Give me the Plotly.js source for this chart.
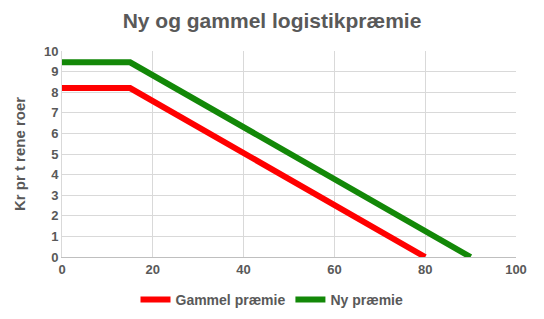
<!DOCTYPE html>
<html><head><meta charset="utf-8">
<script src="https://cdn.plot.ly/plotly-3.0.1.min.js"></script>
<style>body{margin:0}#c{width:544px;height:319px}</style>
</head><body><div id="c"></div>
<script>
const oldX = [0, 15, 80];
const oldY = [8.2, 8.2, 0];
const newX = [0, 15, 90];
const newY = [9.45, 9.45, 0];
const font = {family: 'Liberation Sans, Arial, sans-serif', color: '#595959'};
const data = [
  {x: oldX, y: oldY, mode: 'lines', name: 'Gammel præmie', line: {color: '#ff0000', width: 6}},
  {x: newX, y: newY, mode: 'lines', name: 'Ny præmie', line: {color: '#138808', width: 6}}
];
const layout = {
  width: 544, height: 319,
  margin: {l: 62, r: 28, t: 51, b: 62},
  paper_bgcolor: '#fff', plot_bgcolor: '#fff',
  font: font,
  title: {text: '<b>Ny og gammel logistikpræmie</b>', x: 0.5, xanchor: 'center', y: 0.935, yanchor: 'middle', font: {size: 21, family: font.family, color: '#595959'}},
  xaxis: {range: [0, 100], dtick: 20, automargin: false, showgrid: true, gridcolor: '#d9d9d9', showline: true, linecolor: '#bfbfbf', zeroline: false, ticks: '', tickfont: {size: 13, family: 'Liberation Sans, Arial', color: '#595959', weight: 'bold'}, fixedrange: true},
  yaxis: {range: [0, 10], dtick: 1, automargin: false, showgrid: true, gridcolor: '#d9d9d9', showline: true, linecolor: '#d9d9d9', zeroline: false, ticks: '', tickfont: {size: 13, family: 'Liberation Sans, Arial', color: '#595959', weight: 'bold'},
    title: {text: '<b>Kr pr t rene roer</b>', font: {size: 15, family: font.family, color: '#595959'}, standoff: 14}},
  showlegend: true,
  legend: {orientation: 'h', xref: 'container', x: 0.5, xanchor: 'center', yref: 'container', y: 0.06, yanchor: 'middle', font: {size: 14, family: font.family, color: '#595959', weight: 'bold'}, itemwidth: 30, traceorder: 'normal'}
};
Plotly.newPlot('c', data, layout, {displayModeBar: false, staticPlot: true});
</script></body></html>
